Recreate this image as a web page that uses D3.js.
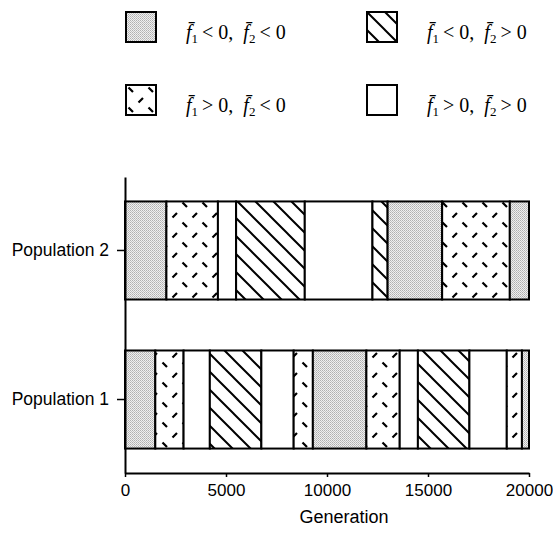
<!DOCTYPE html>
<html>
<head>
<meta charset="utf-8">
<script src="https://cdn.jsdelivr.net/npm/d3@7"></script>
<style>
  body { margin: 0; background: #fff; }
  svg { display: block; }
</style>
</head>
<body>
<div id="chart"></div>
<script>
// Values
const populations = ["Population 2", "Population 1"];
const xTicks = [0, 5000, 10000, 15000, 20000];

// state of each segment: sign of f1 and f2 ("nn" = f1<0,f2<0 etc.)
const pop2Ends   = [2050, 4600, 5500, 8900, 12250, 13000, 15700, 19050, 20000];
const pop2States = ["nn", "pn", "pp", "np", "pp", "np", "nn", "pn", "nn"];

const pop1Ends   = [1500, 2900, 4200, 6750, 8350, 9300, 11950, 13600, 14500, 17050, 18900, 19650, 20000];
const pop1States = ["nn", "pn", "pp", "np", "pp", "pn", "nn", "pn", "pp", "np", "pp", "pn", "nn"];

const legendStates = ["nn", "np", "pn", "pp"];
const legendF1 = ["<", "<", ">", ">"];
const legendF2 = ["<", ">", "<", ">"];

const W = 553, H = 533;
const margin = {top: 177, right: 24, bottom: 60, left: 125};

const svg = d3.select("#chart").append("svg")
    .attr("width", W)
    .attr("height", H);

// fill patterns
const defs = svg.append("defs");

// gray stipple
const stip = defs.append("pattern")
    .attr("id", "p-nn")
    .attr("patternUnits", "userSpaceOnUse")
    .attr("width", 2).attr("height", 2);
stip.append("rect").attr("width", 2).attr("height", 2).attr("fill", "#efefef");
stip.append("rect").attr("width", 1).attr("height", 1).attr("fill", "#b0b0b0");
stip.append("rect").attr("x", 1).attr("y", 1).attr("width", 1).attr("height", 1).attr("fill", "#c2c2c2");

// diagonal hatch
const hatch = defs.append("pattern")
    .attr("id", "p-np")
    .attr("patternUnits", "userSpaceOnUse")
    .attr("width", 18).attr("height", 18);
hatch.append("rect").attr("width", 18).attr("height", 18).attr("fill", "#fff");
hatch.append("path")
    .attr("d", "M-1,-1L19,19M-5,13L5,23M13,-5L23,5")
    .attr("stroke", "#000")
    .attr("stroke-width", 2);

// short dashes in alternating directions
const dash = defs.append("pattern")
    .attr("id", "p-pn")
    .attr("patternUnits", "userSpaceOnUse")
    .attr("width", 20).attr("height", 20);
dash.append("rect").attr("width", 20).attr("height", 20).attr("fill", "#fff");
dash.append("path")
    .attr("d", "M2.5,2.5L7,7M12.5,17.5L17,13")
    .attr("stroke", "#000")
    .attr("stroke-width", 2.2);

const fillFor = s => s === "pp" ? "#fff" : `url(#p-${s})`;

// scales
const x = d3.scaleLinear()
    .domain([0, 20000])
    .range([margin.left, W - margin.right]);

const y = d3.scaleBand()
    .domain(populations)
    .range([margin.top, H - margin.bottom])
    .paddingInner(0.342)
    .paddingOuter(0.164);

function segments(ends, states) {
    return ends.map((e, i) => ({start: i === 0 ? 0 : ends[i - 1], end: e, state: states[i]}));
}
const series = [
    {pop: "Population 2", segs: segments(pop2Ends, pop2States)},
    {pop: "Population 1", segs: segments(pop1Ends, pop1States)}
];

// bars
const rows = svg.selectAll("g.row")
    .data(series)
    .enter().append("g")
    .attr("class", "row");

rows.selectAll("rect")
    .data(d => d.segs.map(s => Object.assign({pop: d.pop}, s)))
    .enter().append("rect")
    .attr("x", d => x(d.start))
    .attr("y", d => y(d.pop))
    .attr("width", d => x(d.end) - x(d.start))
    .attr("height", y.bandwidth())
    .attr("fill", d => fillFor(d.state))
    .attr("stroke", "#000")
    .attr("stroke-width", 2);

// axes
const xAxis = svg.append("g")
    .attr("transform", `translate(0,${H - margin.bottom})`)
    .call(d3.axisBottom(x).tickValues(xTicks).tickFormat(d3.format("d")).tickSize(4).tickSizeOuter(0).tickPadding(7));

const yAxis = svg.append("g")
    .attr("transform", `translate(${margin.left},0)`)
    .call(d3.axisLeft(y).tickSize(8).tickSizeOuter(0).tickPadding(8));

[xAxis, yAxis].forEach(a => {
    a.select(".domain").attr("stroke-width", 2);
    a.selectAll(".tick line").attr("stroke-width", 1.5);
    a.selectAll("text")
        .attr("font-family", "'Liberation Sans', Arial, sans-serif")
        .attr("fill", "#000");
});
xAxis.selectAll("text").attr("font-size", 17);
yAxis.selectAll("text").attr("font-size", 17.5);

svg.append("text")
    .attr("x", 344)
    .attr("y", 523)
    .attr("text-anchor", "middle")
    .attr("font-family", "'Liberation Sans', Arial, sans-serif")
    .attr("font-size", 18)
    .text("Generation");

// legend
const legend = svg.append("g")
    .selectAll("g")
    .data(legendStates)
    .enter().append("g")
    .attr("transform", (d, i) => `translate(${i % 2 === 0 ? 126 : 367},${i < 2 ? 12 : 85})`);

legend.append("rect")
    .attr("width", 30)
    .attr("height", 30)
    .attr("fill", d => fillFor(d))
    .attr("stroke", "#000")
    .attr("stroke-width", 2);

const lt = legend.append("text")
    .attr("x", 60)
    .attr("y", 27)
    .attr("font-family", "'Liberation Serif', 'Times New Roman', serif")
    .attr("font-size", 20)
    .attr("fill", "#000");

lt.each(function(d, i) {
    const t = d3.select(this);
    t.append("tspan").attr("font-style", "italic").text("f\u0304");
    t.append("tspan").attr("font-size", 13).attr("dy", 4).text("1");
    t.append("tspan").attr("dy", -4).text(`\u2009${legendF1[i]} 0,\u2002`);
    t.append("tspan").attr("font-style", "italic").text("f\u0304");
    t.append("tspan").attr("font-size", 13).attr("dy", 4).text("2");
    t.append("tspan").attr("dy", -4).text(`\u2009${legendF2[i]} 0`);
});
</script>
</body>
</html>
